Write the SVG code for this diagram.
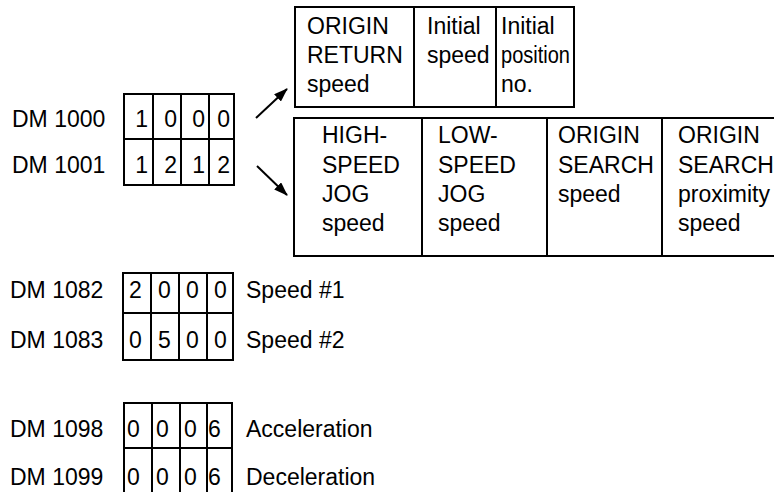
<svg xmlns="http://www.w3.org/2000/svg" width="774" height="492" viewBox="0 0 774 492">
<defs>
<style>
text{font-family:"Liberation Sans",Arial,Helvetica,sans-serif;font-size:23px;fill:#000}
.b{fill:none;stroke:#000;stroke-width:2}
.d{text-anchor:end}
</style>
<marker id="ah2" viewBox="0 0 14 10" refX="13" refY="5" markerWidth="14" markerHeight="10" markerUnits="userSpaceOnUse" orient="auto">
<path d="M0,0 L14,5 L0,10 z" fill="#000"/>
</marker>
</defs>
<rect width="774" height="492" fill="#fff"/>

<g id="dm1000">
<text x="12" y="127">DM 1000</text>
<text x="12" y="173">DM 1001</text>
<rect class="b" x="124" y="94" width="110" height="91"/>
<path class="b" d="M124,139H234M153,94V185M181,94V185M209,94V185"/>
<text class="d" x="148" y="127">1</text><text class="d" x="177" y="127">0</text><text class="d" x="205" y="127">0</text><text class="d" x="230" y="127">0</text>
<text class="d" x="148" y="173">1</text><text class="d" x="177" y="173">2</text><text class="d" x="205" y="173">1</text><text class="d" x="230" y="173">2</text>
</g>

<g id="top-box">
<rect class="b" x="295" y="7" width="279" height="100"/>
<path class="b" d="M414,7V107M496,7V107"/>
<text x="307" y="34">ORIGIN</text><text x="307" y="63">RETURN</text><text x="307" y="92">speed</text>
<text x="427" y="34">Initial</text><text x="427" y="63">speed</text>
<text x="501" y="34">Initial</text><text x="501" y="63" textLength="69" lengthAdjust="spacingAndGlyphs">position</text><text x="501" y="92">no.</text>
</g>

<g id="bottom-box">
<rect class="b" x="294" y="118" width="520" height="138"/>
<path class="b" d="M422,118V256M547,118V256M662,118V256"/>
<text x="322" y="143">HIGH-</text><text x="322" y="172.5">SPEED</text><text x="322" y="202">JOG</text><text x="322" y="231">speed</text>
<text x="438" y="143">LOW-</text><text x="438" y="172.5">SPEED</text><text x="438" y="202">JOG</text><text x="438" y="231">speed</text>
<text x="558" y="143">ORIGIN</text><text x="558" y="172.5">SEARCH</text><text x="558" y="202">speed</text>
<text x="678" y="143">ORIGIN</text><text x="678" y="172.5">SEARCH</text><text x="678" y="202">proximity</text><text x="678" y="231">speed</text>
</g>

<g id="dm1082">
<text x="10" y="298">DM 1082</text>
<text x="10" y="348">DM 1083</text>
<rect class="b" x="123" y="273" width="110" height="87"/>
<path class="b" d="M123,313H233M151,273V360M179,273V360M207,273V360"/>
<text x="129" y="298">2</text><text x="158" y="298">0</text><text x="186" y="298">0</text><text x="214" y="298">0</text>
<text x="129" y="348">0</text><text x="158" y="348">5</text><text x="186" y="348">0</text><text x="214" y="348">0</text>
<text x="246" y="298">Speed #1</text>
<text x="246" y="348">Speed #2</text>
</g>

<g id="dm1098">
<text x="10" y="437">DM 1098</text>
<text x="10" y="485">DM 1099</text>
<rect class="b" x="124" y="403" width="108" height="100"/>
<path class="b" d="M124,448H232M152,403V503M180,403V503M207,403V503"/>
<text x="127" y="437">0</text><text x="156" y="437">0</text><text x="184" y="437">0</text><text x="208" y="437">6</text>
<text x="127" y="485">0</text><text x="156" y="485">0</text><text x="184" y="485">0</text><text x="208" y="485">6</text>
<text x="246" y="437">Acceleration</text>
<text x="246" y="485">Deceleration</text>
</g>

<g id="connectors">
<line x1="256" y1="118" x2="287" y2="89" stroke="#000" stroke-width="2" marker-end="url(#ah2)"/>
<line x1="257" y1="166" x2="287" y2="195" stroke="#000" stroke-width="2" marker-end="url(#ah2)"/>
</g>
</svg>
